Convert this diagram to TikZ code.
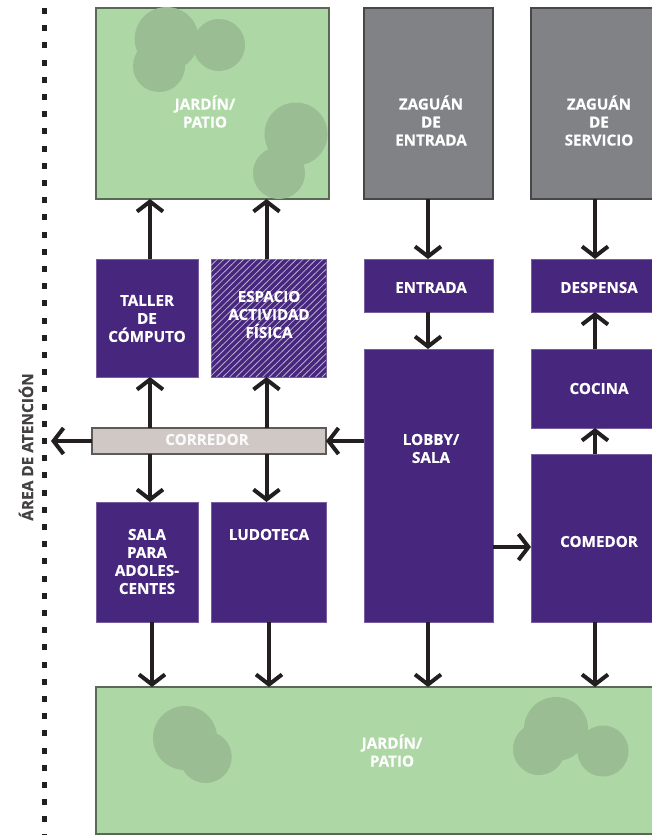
\documentclass[tikz,border=0pt]{standalone}
\usepackage{fontspec}
\setmainfont{Open Sans}[BoldFont={* Bold},BoldFeatures={FakeBold=0.35}]
\usetikzlibrary{arrows.meta}
\definecolor{purp}{HTML}{47277E}
\definecolor{grn}{HTML}{ADD7A4}
\definecolor{tree}{HTML}{9ABD93}
\definecolor{gry}{HTML}{808285}
\definecolor{corr}{HTML}{CFC8C5}
\definecolor{ink}{HTML}{231F20}
\tikzset{
  room/.style={draw=#1!75!white,line width=.9pt,inner sep=0pt,outer sep=0pt,anchor=center},
  purple room/.style={room=purp,fill=purp},
  garden room/.style={draw=ink!60!grn,fill=grn,line width=1.3pt,inner sep=0pt,outer sep=0pt},
  gray room/.style={draw=ink!60!gry,fill=gry,line width=1.1pt,inner sep=0pt,outer sep=0pt},
  hall room/.style={draw=ink!65!corr,fill=corr,line width=1.1pt,inner sep=0pt,outer sep=0pt},
  lbl/.style={text=white,font=\bfseries\fontsize{15.2}{18}\selectfont,align=center,inner sep=0pt},
  link/.style={draw=ink,line width=4pt,-{Straight Barb[length=10pt,width=26pt,line width=4pt]}},
  treetop/.style={fill=tree,draw=none},
  hatchline/.style={draw=white!62!purp,line width=.8pt}
}
\newcommand{\roombox}[6]{%
  \pgfmathsetmacro{\rw}{#5-#3}\pgfmathsetmacro{\rh}{#6-#4}%
  \pgfmathsetmacro{\rx}{(#3+#5)/2}\pgfmathsetmacro{\ry}{(#4+#6)/2}%
  \node[#2,minimum width=\rw pt,minimum height=\rh pt] (#1) at (\rx,\ry) {};}
\begin{document}
\begin{tikzpicture}[x=1pt,y=-1pt]
\useasboundingbox (0,0) rectangle (652,835);
% dotted boundary
\coordinate (dotA) at (44.5,8);
\coordinate (dotB) at (44.5,835);
\draw[ink,line width=4.6pt,dash pattern=on 6pt off 11.2pt] (dotA) -- (dotB);
\node[rotate=90,text=ink!85!white,font=\bfseries\fontsize{15.4}{18}\selectfont,inner sep=0pt] (area) at (26,447) {ÁREA DE ATENCIÓN};
% gardens
\roombox{jt}{garden room}{96}{8}{329}{199}
\roombox{jb}{garden room}{96}{687}{656}{834}
\foreach \cx/\cy/\cr in {166.7/39/32,219/45/26,159/66/26,296/134/31.5,279/173/26,185/738/32,205.7/757/26,556/729/32,603/751/25.5,539/749/26}
  \fill[treetop] (\cx,\cy) circle[radius=\cr];
% gray
\roombox{ze}{gray room}{364}{8}{493}{199}
\roombox{zs}{gray room}{531}{8}{656}{199}
% purple
\roombox{taller}{purple room}{96}{259}{198}{377}
\roombox{espacio}{purple room}{211}{259}{326}{377}
\begin{scope}
  \clip (211,259) rectangle (326,377);
  \foreach \k in {0,6.6,...,240} \draw[hatchline] (211+\k-120,377) -- (211+\k,259);
\end{scope}
\roombox{entrada}{purple room}{364}{259}{493}{312}
\roombox{despensa}{purple room}{531}{259}{656}{312}
\roombox{lobby}{purple room}{364}{349}{493}{622}
\roombox{cocina}{purple room}{531}{349}{656}{428}
\roombox{comedor}{purple room}{531}{454}{656}{622}
\roombox{sala}{purple room}{96}{502}{198}{622}
\roombox{ludo}{purple room}{211}{502}{326}{622}
\roombox{corredor}{hall room}{92}{428}{326}{454}
% labels
\node[lbl] (tjt) at (205,111.5) {JARDÍN/\\PATIO};
\node[lbl] (tze) at (431,120.5) {ZAGUÁN\\DE\\ENTRADA};
\node[lbl] (tzs) at (599,120.5) {ZAGUÁN\\DE\\SERVICIO};
\node[lbl] (ttal) at (147,318.5) {TALLER\\DE\\CÓMPUTO};
\node[lbl] (tesp) at (269,314.5) {ESPACIO\\ACTIVIDAD\\FÍSICA};
\node[lbl] (tent) at (431,287.5) {ENTRADA};
\node[lbl] (tdes) at (599,287.5) {DESPENSA};
\node[lbl] (tcoc) at (599,388.5) {COCINA};
\node[lbl] (tlob) at (431,448.5) {LOBBY/\\SALA};
\node[lbl,text=white!90!corr] (tcor) at (207,439.5) {CORREDOR};
\node[lbl] (tcom) at (599,541.5) {COMEDOR};
\node[lbl] (tsal) at (147,561.5) {SALA\\PARA\\ADOLES-\\CENTES};
\node[lbl] (tlud) at (269,534.5) {LUDOTECA};
\node[lbl] (tjb) at (392,750.5) {JARDÍN/\\PATIO};
% connectors
\coordinate (areaEnd) at (51,441);
\draw[link] ([xshift=3pt]taller.north) -- ([xshift=3pt]taller.north |- jt.south);
\draw[link] ([xshift=-2pt]espacio.north) -- ([xshift=-2pt]espacio.north |- jt.south);
\draw[link] ([xshift=3pt]taller.south |- corredor.north) -- ([xshift=3pt]taller.south);
\draw[link] ([xshift=-2pt]espacio.south |- corredor.north) -- ([xshift=-2pt]espacio.south);
\draw[link] ([xshift=3pt]sala.north |- corredor.south) -- ([xshift=3pt]sala.north);
\draw[link] ([xshift=-2pt]ludo.north |- corredor.south) -- ([xshift=-2pt]ludo.north);
\draw[link] (corredor.west |- areaEnd) -- (areaEnd);
\draw[link] (lobby.west |- areaEnd) -- (corredor.east |- areaEnd);
\draw[link] ([xshift=-.5pt]ze.south) -- ([xshift=-.5pt]entrada.north);
\draw[link] ([xshift=-.5pt]entrada.south) -- ([xshift=-.5pt]lobby.north);
\coordinate (svc) at (595,0);
\draw[link] (zs.south -| svc) -- (despensa.north -| svc);
\draw[link] (cocina.north -| svc) -- (despensa.south -| svc);
\draw[link] (comedor.north -| svc) -- (cocina.south -| svc);
\coordinate (lc) at (0,547);
\draw[link] (lobby.east |- lc) -- (comedor.west |- lc);
\draw[link] ([xshift=5pt]sala.south) -- ([xshift=5pt]sala.south |- jb.north);
\draw[link] ([xshift=.5pt]ludo.south) -- ([xshift=.5pt]ludo.south |- jb.north);
\draw[link] ([xshift=-.5pt]lobby.south) -- ([xshift=-.5pt]lobby.south |- jb.north);
\draw[link] (comedor.south -| svc) -- (jb.north -| svc);
\end{tikzpicture}
\end{document}
